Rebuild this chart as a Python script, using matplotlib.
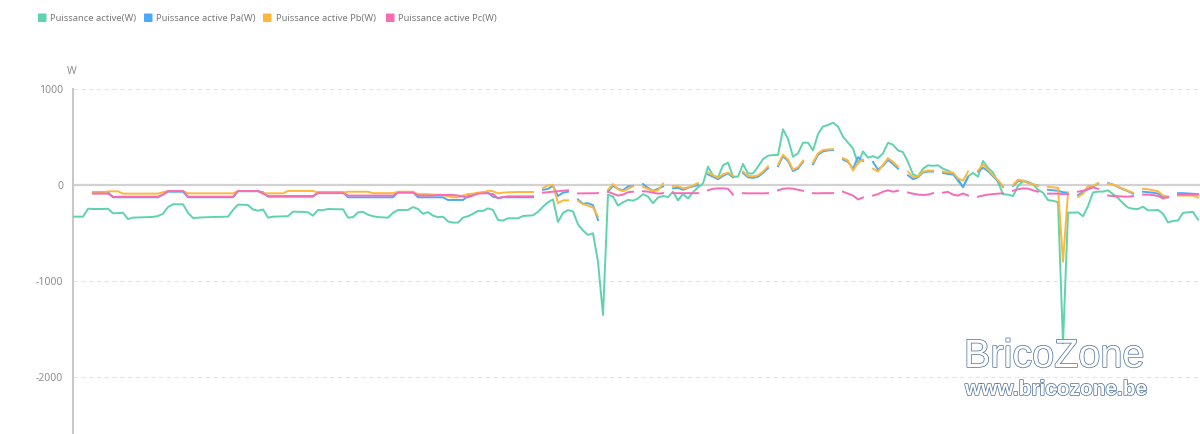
import numpy as np
import matplotlib
matplotlib.use("Agg")
import matplotlib.pyplot as plt
import matplotlib.patches as mpatches
import matplotlib.patheffects as pe

N = None
# Series values (W), one value per sample
total_w = [-330,-330,-330,-247,-250,-250,-250,-247,-295,-292,
 -290,-355,-340,-338,-336,-335,-333,-323,-300,-230,
 -201,-201,-201,-290,-344,-340,-337,-335,-333,-332,
 -331,-330,-260,-205,-206,-210,-255,-268,-255,-340,
 -330,-328,-327,-325,-278,-279,-280,-285,-320,-260,
 -262,-250,-252,-253,-253,-340,-335,-285,-280,-310,
 -325,-335,-338,-340,-290,-260,-260,-260,-230,-250,
 -300,-282,-320,-335,-330,-380,-392,-392,-340,-325,
 -300,-270,-270,-243,-260,-365,-370,-347,-347,-347,
 -323,-320,-316,-280,-225,-180,-150,-385,-290,-262,
 -275,-410,-475,-520,-503,-800,-1354,-100,-120,-215,
 -180,-155,-163,-140,-95,-120,-190,-130,-115,-125,
 -70,-160,-95,-140,-75,-25,15,191,100,80,
 205,233,87,87,219,120,120,191,270,305,
 312,313,580,480,295,330,441,441,360,530,
 610,625,649,610,503,441,380,220,350,285,
 300,280,330,440,420,360,342,240,110,90,
 170,205,200,205,170,150,120,40,-24,90,
 125,87,250,180,130,30,-97,-100,-115,-10,
 40,25,10,-50,-80,-158,-165,-178,-1650,-288,
 -288,-285,-325,-220,-78,-69,-69,-55,-95,-135,
 -191,-235,-248,-250,-226,-264,-264,-260,-300,-390,
 -375,-370,-290,-285,-280,-360]

pa_w = [N,N,N,N,-76,-76,-76,-76,-128,-128,
 -128,-128,-128,-128,-128,-128,-128,-128,-100,-70,
 -70,-70,-70,-128,-128,-128,-128,-128,-128,-128,
 -128,-128,-128,-65,-65,-65,-65,-65,-75,-122,
 -122,-122,-122,-122,-122,-122,-122,-122,-122,-76,
 -76,-76,-76,-76,-76,-128,-128,-128,-128,-128,
 -128,-128,-128,-128,-128,-76,-76,-76,-76,-128,
 -128,-128,-128,-128,-128,-156,-156,-156,-156,-115,
 -100,-85,-76,-80,-122,-135,-128,-128,-128,-128,
 -128,-128,-128,N,-50,-40,-10,-115,-80,-70,
 N,-150,-195,-190,-210,-365,N,-70,-10,-40,
 -55,-15,-10,N,10,-30,-60,-40,-15,N,
 -35,-30,-50,-30,-15,0,N,110,85,60,
 95,120,80,N,125,80,75,85,125,175,
 N,195,300,250,145,170,240,N,215,315,
 350,360,365,N,265,240,170,290,250,N,
 240,160,200,260,220,170,N,100,60,80,
 130,140,140,N,125,115,110,60,-20,80,
 N,140,180,145,90,40,-20,N,-10,40,
 45,30,5,-5,N,-50,-55,-60,-75,-80,
 N,-105,-75,-40,-15,15,N,20,5,-20,
 -45,-65,-90,N,-70,-75,-80,-90,-125,-130,
 N,-85,-85,-88,-90,-95]

pb_w = [N,N,N,N,-85,-85,-85,-66,-66,-66,
 -90,-90,-90,-90,-90,-90,-90,-90,-75,-63,
 -63,-63,-63,-87,-87,-87,-87,-87,-87,-87,
 -87,-87,-87,-63,-63,-63,-63,-63,-87,-87,
 -87,-87,-87,-62,-62,-62,-62,-62,-62,-80,
 -80,-80,-80,-80,-80,-70,-70,-70,-70,-70,
 -85,-85,-85,-85,-85,-70,-70,-70,-70,-95,
 -95,-95,-100,-100,-104,-118,-128,-128,-110,-94,
 -90,-80,-78,-59,-65,-87,-80,-76,-74,-73,
 -73,-73,-73,N,-30,-5,0,-190,-160,-160,
 N,-165,-200,-215,-235,-330,N,-50,10,-45,
 -65,-40,-15,N,-20,-40,-65,-55,15,N,
 -10,-10,-35,-25,-5,20,N,130,100,75,
 110,130,95,N,140,95,90,100,140,195,
 N,210,315,265,160,185,255,N,235,330,
 365,370,375,N,280,255,150,230,265,N,
 170,140,210,280,240,190,N,140,80,90,
 140,150,150,N,140,130,130,70,45,140,
 N,150,215,160,100,50,-10,N,0,55,
 45,20,10,-10,N,-20,-25,-30,-800,-80,
 N,-125,-90,-10,-10,20,N,15,5,-15,
 -40,-60,-80,N,-40,-45,-55,-65,-110,-120,
 N,-110,-110,-110,-110,-130]

pc_w = [N,N,N,N,-90,-90,-90,-90,-122,-122,
 -122,-122,-122,-122,-122,-122,-122,-122,-100,-63,
 -63,-63,-63,-122,-122,-122,-122,-122,-122,-122,
 -122,-122,-122,-63,-63,-63,-63,-63,-90,-115,
 -115,-115,-115,-115,-115,-115,-115,-115,-115,-85,
 -85,-85,-85,-85,-85,-110,-110,-110,-110,-110,
 -110,-110,-110,-110,-110,-80,-80,-80,-80,-110,
 -110,-110,-110,-104,-104,-104,-104,-110,-120,-128,
 -110,-90,-87,-87,-95,-139,-125,-118,-118,-118,
 -118,-118,-118,N,-80,-75,-70,-65,-60,-55,
 N,-88,-87,-85,-85,-85,N,-70,-90,-110,
 -100,-75,-70,N,-65,-70,-80,-90,-85,N,
 -85,-85,-85,-85,-85,-85,N,-55,-40,-35,
 -35,-40,-100,N,-85,-87,-87,-87,-87,-85,
 N,-55,-40,-35,-38,-50,-60,N,-85,-87,
 -85,-85,-85,N,-70,-90,-110,-150,-130,N,
 -110,-95,-70,-55,-70,-60,N,-78,-90,-100,
 -104,-100,-85,N,-80,-72,-100,-110,-88,-110,
 N,-122,-110,-100,-95,-90,-87,N,-60,-45,
 -35,-38,-55,-70,N,-90,-90,-90,-95,-95,
 N,-70,-60,-45,-25,-40,N,-110,-115,-118,
 -120,-122,-115,N,-100,-100,-105,-115,-140,-125,
 N,-100,-100,-100,-100,-100]

series_labels = ["Puissance active(W)", "Puissance active Pa(W)",
                 "Puissance active Pb(W)", "Puissance active Pc(W)"]
series_colors = ["#5fd3ac", "#4ea8f8", "#fdb83c", "#f86cb6"]
ytick_values = [1000, 0, -1000, -2000]
ytick_labels = ["1000", "0", "-1000", "-2000"]
unit_label = "W"

W, H = 1200, 434
fig = plt.figure(figsize=(W / 100, H / 100), dpi=100)
fig.patch.set_facecolor("white")

ax = fig.add_axes([73 / W, 0, 1 - 73 / W, (H - 89) / H])
data = [np.array(s, dtype=float) for s in (total_w, pa_w, pb_w, pc_w)]
x = np.arange(len(total_w))
for vals, c in zip(data, series_colors):
    ax.plot(x, vals, color=c, lw=1.4, solid_joinstyle="round", zorder=3)

ax.set_xlim(0, (W - 73) / 5)
ax.set_ylim(-2594, 1000)

for v in ytick_values:
    if v == 0:
        ax.axhline(v, color="#d2d2d2", lw=1.6, zorder=2)
    else:
        ax.axhline(v, color="#e6e6e6", lw=0.8, ls=(0, (4, 3)), zorder=1)

for s in ["top", "right", "bottom"]:
    ax.spines[s].set_visible(False)
ax.spines["left"].set_color("#c8c8c8")
ax.spines["left"].set_linewidth(1.5)
ax.set_xticks([])
ax.set_yticks(ytick_values)
ax.set_yticklabels(ytick_labels, fontsize=7.5, color="#909090", family="Noto Sans")
ax.tick_params(axis="y", length=0, pad=7)

fig.text(72 / W, 1 - 72 / H, unit_label, fontsize=7.5, color="#909090",
         family="Noto Sans", ha="center", va="center")

# legend
sq_x = [38, 144, 263, 386]
for lab, c, sx in zip(series_labels, series_colors, sq_x):
    fig.patches.append(mpatches.FancyBboxPatch(
        (sx / W, 1 - 22 / H), 8.5 / W, 8.5 / H, boxstyle="round,pad=0,rounding_size=0.001",
        transform=fig.transFigure, facecolor=c, edgecolor="none"))
    fig.text((sx + 12.5) / W, 1 - 18 / H, lab, fontsize=6.8, color="#7a7a7a",
             family="Noto Sans", ha="left", va="center")

# watermark
stroke = [pe.withStroke(linewidth=1.1, foreground="#56799f")]
fig.text(964 / W, 1 - 367 / H, "BricoZone", fontsize=28.5, family="Liberation Sans",
         color="white", ha="left", va="baseline", path_effects=stroke, zorder=10)
fig.text(965 / W, 1 - 395 / H, "www.bricozone.be", fontsize=15, family="Liberation Sans",
         weight="bold", color="white", ha="left", va="baseline", path_effects=stroke, zorder=10)

fig.savefig("out.png", dpi=100, facecolor="white")
